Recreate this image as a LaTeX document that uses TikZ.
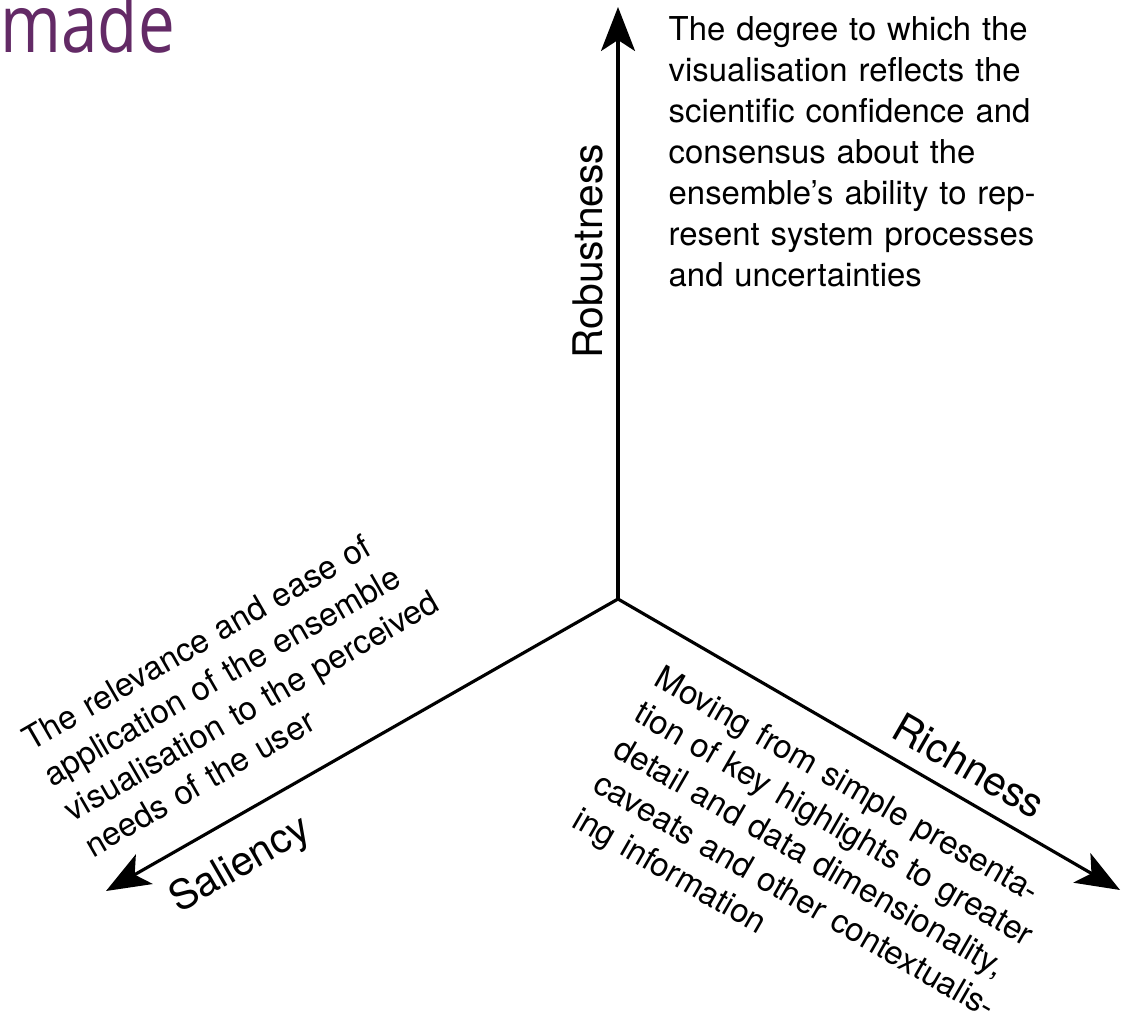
\documentclass[tikz,border=0pt]{standalone}
\usepackage{fontspec}
\setmainfont{TeX Gyre Heros}
\newfontfamily\madefont{Open Sans}
\usetikzlibrary{arrows.meta,positioning}
\definecolor{madepurple}{RGB}{99,42,102}

\begin{document}
\begin{tikzpicture}[
    axis/.style={-{Stealth[length=4.4mm, width=3.4mm, inset=1.1mm]}, line width=0.9pt},
    desc/.style={inner sep=0pt, align=left, text width=5cm, font=\fontsize{9.35}{11.65}\selectfont},
    axislabel/.style={inner sep=0pt, font=\fontsize{11.6}{13}\selectfont}
  ]
  \useasboundingbox (0,0) rectangle (11.21,10.13);

  % heading, cut off at the top
  \node[anchor=base west, inner sep=0pt, text=madepurple, font=\madefont\fontsize{23}{26}\selectfont, xscale=0.81, transform shape] (made) at (0,9.60) {made};

  % axes
  \coordinate (o) at (6.18,4.14);
  \coordinate (rob) at (6.18,10.06);
  \coordinate (sal) at (1.06,1.22);
  \coordinate (rich) at (11.20,1.23);
  \draw[axis] (o) -- (rob);
  \draw[axis] (o) -- (sal);
  \draw[axis] (o) -- (rich);

  % axis names
  \node[axislabel, rotate=90, anchor=base] (roblabel) at (6.02,7.62) {Robustness};
  \node[axislabel, rotate=30, anchor=base] (sallabel) at (2.46,1.38) {Saliency};
  \node[axislabel, rotate=-30, anchor=base] (richlabel) at (9.62,2.35) {Richness};

  % descriptions
  \node[desc, anchor=base west] (robtext) at (6.68,9.72) {The degree to which the\\
    visualisation reflects the\\
    scientific confidence and\\
    consensus about the\\
    ensemble’s ability to rep-\\
    resent system processes\\
    and uncertainties};
  \node[desc, rotate=30, anchor=base west] (saltext) at (0.31,2.61) {The relevance and ease of\\
    application of the ensemble\\
    visualisation to the perceived\\
    needs of the user};
  \node[desc, rotate=-30, anchor=base west] (richtext) at (6.52,3.29) {Moving from simple presenta-\\
    tion of key highlights to greater\\
    detail and data dimensionality,\\
    caveats and other contextualis-\\
    ing information};
\end{tikzpicture}
\end{document}
